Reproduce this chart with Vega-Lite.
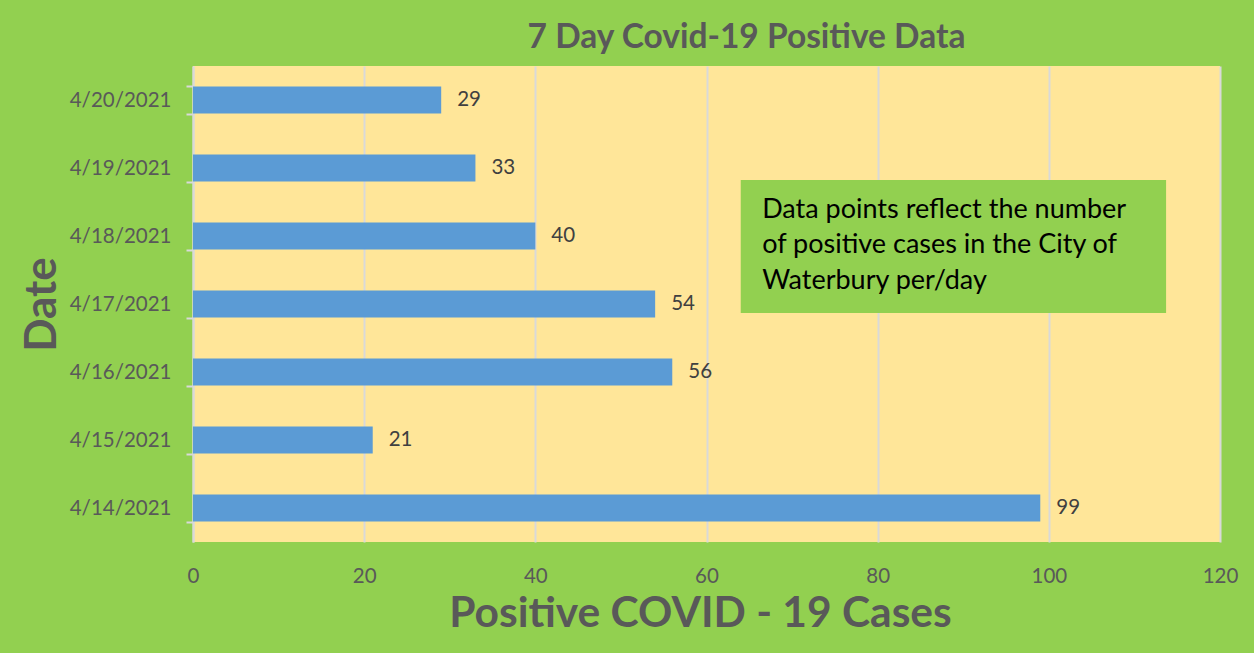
{
  "$schema": "https://vega.github.io/schema/vega-lite/v6.json",
  "width": 1027,
  "height": 476,
  "autosize": {"type": "none"},
  "padding": {"left": 193, "top": 66, "right": 34, "bottom": 111},
  "background": "#92D050",
  "config": {
    "view": {"stroke": null, "fill": "#FFE699"},
    "font": "Lato"
  },
  "title": {
    "text": "7 Day Covid-19 Positive Data",
    "font": "Lato",
    "fontSize": 33.5,
    "fontWeight": "bold",
    "color": "#595959",
    "anchor": "middle",
    "dx": 40,
    "offset": 1
  },
  "datasets": {
    "cases": [
      {"date": "4/20/2021", "cases": 29},
      {"date": "4/19/2021", "cases": 33},
      {"date": "4/18/2021", "cases": 40},
      {"date": "4/17/2021", "cases": 54},
      {"date": "4/16/2021", "cases": 56},
      {"date": "4/15/2021", "cases": 21},
      {"date": "4/14/2021", "cases": 99}
    ],
    "note": [
      {"x1": 64.0, "x2": 113.7, "y1": 1.676, "y2": 3.632}
    ],
    "noteText": [
      {"x": 66.5, "y": 2.118, "line": "Data points reflect the number"},
      {"x": 66.5, "y": 2.632, "line": "of positive cases in the City of"},
      {"x": 66.5, "y": 3.162, "line": "Waterbury per/day"}
    ]
  },
  "layer": [
    {
      "data": {"name": "cases"},
      "encoding": {
        "y": {
          "field": "date",
          "type": "nominal",
          "sort": null,
          "scale": {"paddingInner": 0.6, "paddingOuter": 0.3},
          "axis": {
            "title": "Date",
            "titleFont": "Lato",
            "titleFontSize": 44,
            "titleFontWeight": "bold",
            "titleColor": "#595959",
            "titleAngle": -90,
            "titleX": -151,
            "titleY": 238,
            "titleAlign": "center",
            "titleBaseline": "middle",
            "labelFont": "Lato",
            "labelFontSize": 20.5,
            "labelColor": "#595959",
            "labelPadding": 15,
            "tickBand": "extent",
            "tickSize": 7,
            "tickColor": "#D9D9D9",
            "tickWidth": 2,
            "domainColor": "#D9D9D9",
            "domainWidth": 2,
            "grid": false
          }
        },
        "x": {
          "field": "cases",
          "type": "quantitative",
          "scale": {"domain": [0, 120], "nice": false},
          "axis": {
            "title": "Positive COVID - 19 Cases",
            "titleFont": "Lato",
            "titleFontSize": 42.5,
            "titleFontWeight": "bold",
            "titleColor": "#595959",
            "titlePadding": 6,
            "titleX": 507,
            "values": [0, 20, 40, 60, 80, 100, 120],
            "labelFont": "Lato",
            "labelFontSize": 20.5,
            "labelColor": "#595959",
            "labelPadding": 24,
            "labelFlush": false,
            "labelOverlap": false,
            "ticks": false,
            "domain": false,
            "grid": true,
            "gridColor": "#D9D9D9",
            "gridWidth": 2
          }
        }
      },
      "layer": [
        {"mark": {"type": "bar", "color": "#5B9BD5"}},
        {
          "mark": {"type": "text", "align": "left", "baseline": "middle", "dx": 16, "fontSize": 20.5, "font": "Lato", "color": "#404040"},
          "encoding": {"text": {"field": "cases", "type": "quantitative"}}
        }
      ]
    },
    {
      "layer": [
        {
          "data": {"name": "note"},
          "mark": {"type": "rect", "color": "#92D050"},
          "encoding": {
            "x": {"field": "x1", "type": "quantitative", "scale": {"domain": [0, 120], "nice": false}, "axis": null},
            "x2": {"field": "x2"},
            "y": {"field": "y1", "type": "quantitative", "scale": {"domain": [0, 7], "reverse": true, "nice": false}, "axis": null},
            "y2": {"field": "y2"}
          }
        },
        {
          "data": {"name": "noteText"},
          "mark": {"type": "text", "align": "left", "baseline": "middle", "fontSize": 27, "font": "Lato", "color": "#000000"},
          "encoding": {
            "x": {"field": "x", "type": "quantitative", "scale": {"domain": [0, 120], "nice": false}, "axis": null},
            "y": {"field": "y", "type": "quantitative", "scale": {"domain": [0, 7], "reverse": true, "nice": false}, "axis": null},
            "text": {"field": "line", "type": "nominal"}
          }
        }
      ]
    }
  ],
  "resolve": {"scale": {"y": "independent", "x": "independent"}}
}
